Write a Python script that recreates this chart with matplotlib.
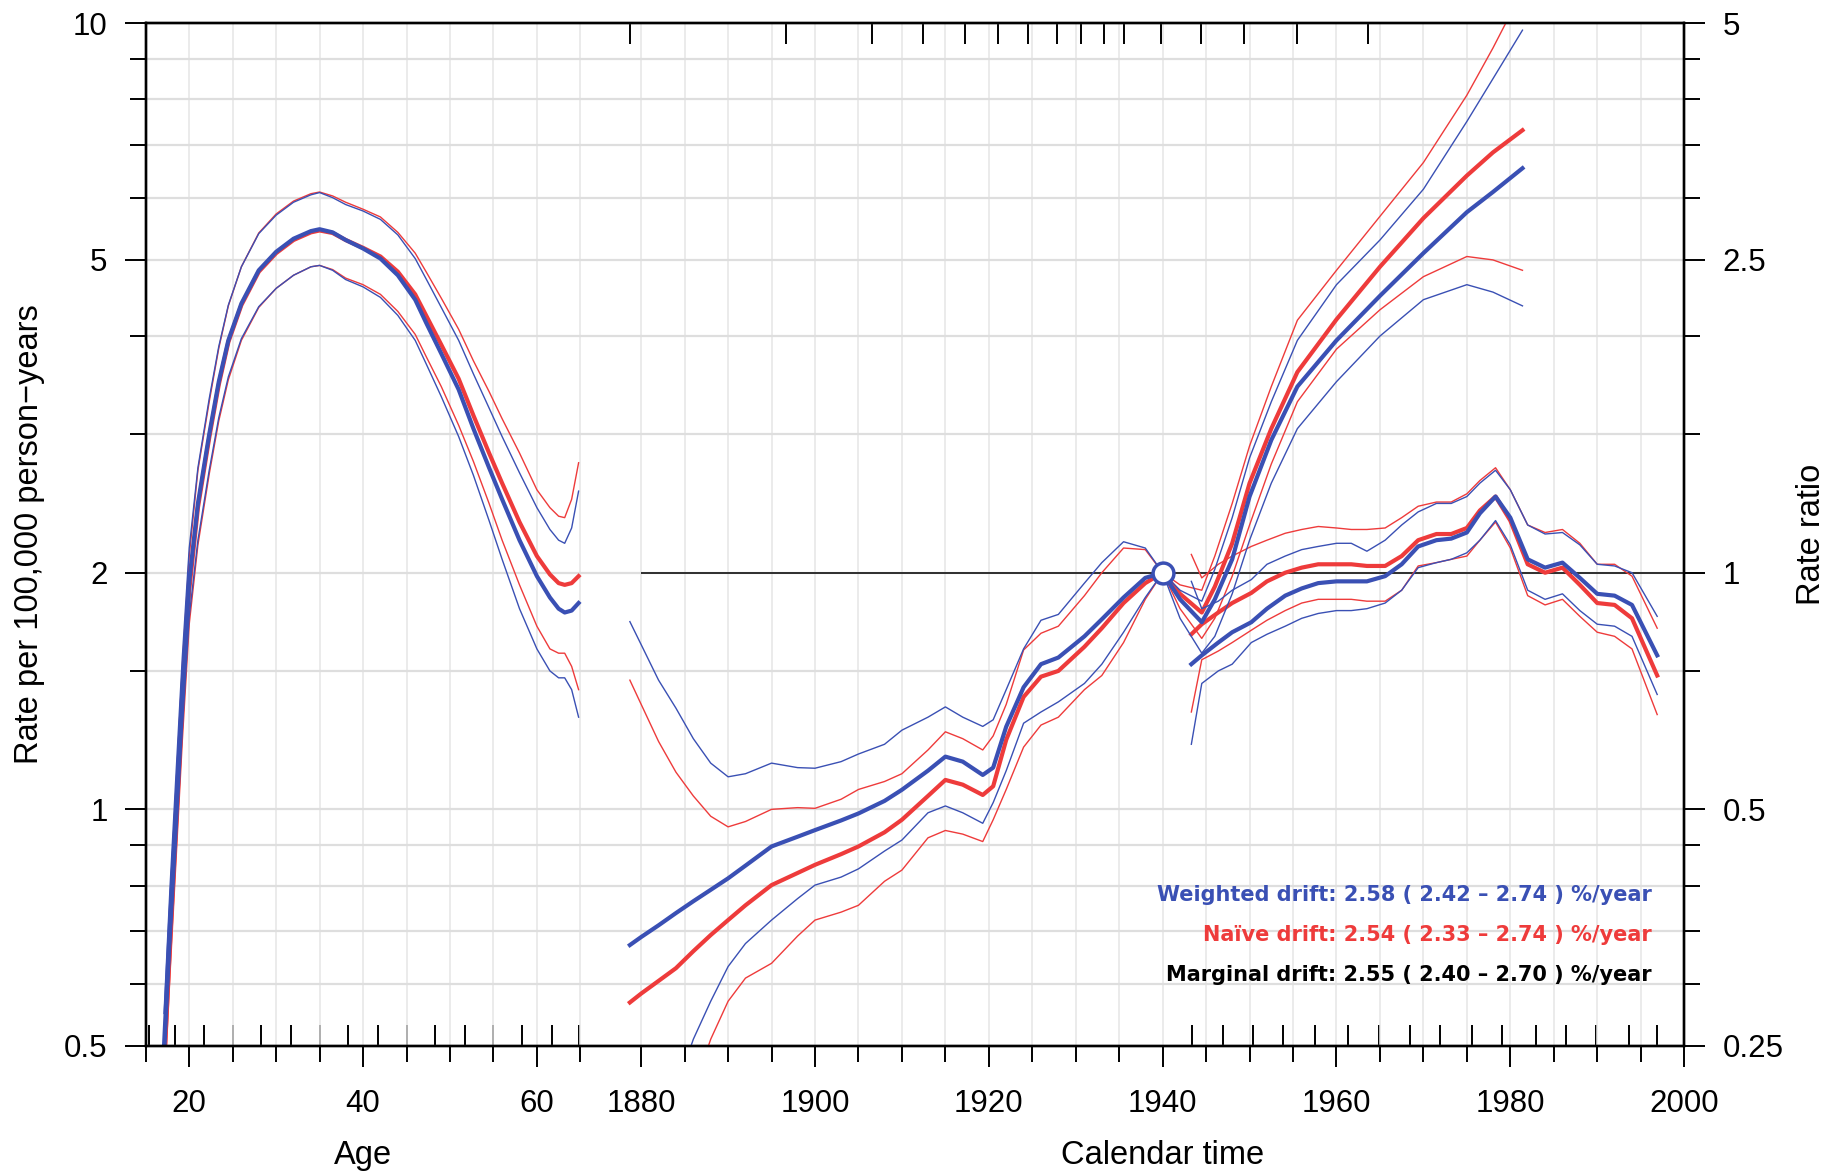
import matplotlib
matplotlib.use("Agg")
import matplotlib.pyplot as plt
from matplotlib.ticker import NullFormatter
from matplotlib.transforms import blended_transform_factory

plt.rcParams['font.family'] = ['Liberation Sans', 'DejaVu Sans']

blue = '#3a50b4'
red = '#ee3b3b'

# ---- age effect: rate per 100,000 person-years (w = weighted fit, n = naive fit)
age = [17.1, 17.8, 18.5, 19.2, 20.0, 21.0, 22.3, 23.4, 24.5, 26.0, 28.0, 30.0, 32.0, 34.0,
       35.0, 36.5, 38.0, 40.0, 42.0, 44.0, 46.0, 47.3, 49.0, 51.0, 52.7, 54.5, 56.0, 58.0,
       60.0, 61.5, 62.5, 63.2, 64.0, 64.8]
age_w = [0.5, 0.72, 1.0, 1.4, 1.95, 2.45, 3.0, 3.5, 3.95, 4.4, 4.85, 5.12, 5.32, 5.44,
         5.47, 5.42, 5.30, 5.17, 5.02, 4.78, 4.45, 4.15, 3.8, 3.42, 3.05, 2.72, 2.48, 2.2,
         1.98, 1.86, 1.80, 1.78, 1.79, 1.83]
age_w_hi = [0.55, 0.80, 1.12, 1.56, 2.15, 2.72, 3.33, 3.88, 4.38, 4.9, 5.4, 5.7, 5.92, 6.05,
            6.09, 6.0, 5.88, 5.77, 5.63, 5.38, 5.02, 4.72, 4.35, 3.95, 3.58, 3.24, 2.98, 2.68,
            2.42, 2.27, 2.20, 2.18, 2.28, 2.54]
age_w_lo = [0.45, 0.65, 0.9, 1.26, 1.76, 2.2, 2.7, 3.15, 3.55, 3.97, 4.36, 4.6, 4.78, 4.9,
            4.92, 4.85, 4.72, 4.62, 4.48, 4.25, 3.95, 3.68, 3.35, 2.98, 2.66, 2.33, 2.08, 1.80,
            1.60, 1.50, 1.47, 1.47, 1.42, 1.31]
age_n = [0.47, 0.68, 0.96, 1.36, 1.9, 2.42, 2.97, 3.47, 3.93, 4.38, 4.83, 5.1, 5.3, 5.42,
         5.45, 5.41, 5.3, 5.18, 5.05, 4.83, 4.52, 4.24, 3.9, 3.53, 3.17, 2.84, 2.6, 2.32,
         2.1, 1.99, 1.94, 1.93, 1.94, 1.98]
age_n_hi = [0.52, 0.77, 1.08, 1.52, 2.1, 2.7, 3.3, 3.86, 4.37, 4.9, 5.41, 5.72, 5.94, 6.07,
            6.1, 6.03, 5.92, 5.8, 5.67, 5.42, 5.1, 4.82, 4.47, 4.08, 3.72, 3.4, 3.14, 2.84,
            2.55, 2.42, 2.36, 2.35, 2.48, 2.76]
age_n_lo = [0.43, 0.62, 0.87, 1.22, 1.72, 2.17, 2.67, 3.12, 3.52, 3.95, 4.35, 4.6, 4.78, 4.9,
            4.92, 4.86, 4.74, 4.65, 4.52, 4.3, 4.02, 3.76, 3.45, 3.08, 2.77, 2.45, 2.2, 1.93,
            1.71, 1.6, 1.58, 1.58, 1.52, 1.42]

# ---- cohort effect: rate ratio, reference cohort 1940
coh = [1878.7, 1880, 1882, 1884, 1886, 1888, 1890, 1892, 1895, 1898, 1900, 1903, 1905, 1908,
       1910, 1913, 1915, 1917, 1919.3, 1920.5, 1922, 1924, 1926, 1928, 1931, 1933, 1935.5,
       1938, 1940, 1942, 1944.5, 1946, 1948, 1950, 1952.5, 1955.5, 1960, 1965, 1970, 1975,
       1978, 1981.4]
coh_w = [0.336, 0.344, 0.356, 0.369, 0.382, 0.395, 0.4085, 0.424, 0.4485, 0.4615, 0.4705,
         0.484, 0.494, 0.5125, 0.5295, 0.56, 0.5835, 0.575, 0.553, 0.565, 0.637, 0.715, 0.765,
         0.78, 0.83, 0.8725, 0.93, 0.985, 1.0, 0.925, 0.865, 0.925, 1.04, 1.25, 1.475, 1.725,
         1.975, 2.25, 2.55, 2.875, 3.05, 3.27]
coh_w_hi = [0.8665, 0.81, 0.73, 0.6725, 0.615, 0.5725, 0.55, 0.555, 0.5725, 0.565, 0.564,
            0.575, 0.588, 0.605, 0.6305, 0.655, 0.675, 0.655, 0.6375, 0.65, 0.71, 0.8, 0.87,
            0.885, 0.97, 1.03, 1.095, 1.075, 1.0, 0.95, 0.92, 1.01, 1.175, 1.4, 1.65, 1.975,
            2.325, 2.65, 3.075, 3.75, 4.25, 4.9]
coh_w_lo = [0.13, 0.15, 0.185, 0.22, 0.255, 0.285, 0.3155, 0.3375, 0.3615, 0.385, 0.4005,
            0.41, 0.42, 0.4425, 0.457, 0.495, 0.505, 0.495, 0.48, 0.51, 0.56, 0.6435, 0.665,
            0.685, 0.723, 0.765, 0.84, 0.93, 1.0, 0.875, 0.79, 0.83, 0.94, 1.1, 1.3, 1.525,
            1.75, 2.0, 2.225, 2.325, 2.275, 2.185]
coh_n = [0.284, 0.2915, 0.3025, 0.314, 0.33, 0.346, 0.3615, 0.3775, 0.4005, 0.415, 0.425,
         0.4385, 0.4485, 0.4675, 0.485, 0.52, 0.545, 0.5375, 0.5215, 0.535, 0.613, 0.695,
         0.7375, 0.75, 0.805, 0.85, 0.915, 0.97, 1.0, 0.94, 0.89, 0.96, 1.09, 1.3, 1.525, 1.8,
         2.1, 2.45, 2.825, 3.2, 3.425, 3.655]
coh_n_hi = [0.73, 0.68, 0.61, 0.5575, 0.52, 0.49, 0.475, 0.4825, 0.5, 0.5025, 0.5015, 0.515,
            0.53, 0.5425, 0.555, 0.595, 0.6275, 0.615, 0.595, 0.62, 0.68, 0.7975, 0.8375, 0.855,
            0.935, 1.0, 1.075, 1.07, 1.0, 0.965, 0.95, 1.05, 1.225, 1.45, 1.725, 2.095, 2.425,
            2.84, 3.325, 4.05, 4.65, 5.5]
coh_n_lo = [0.1, 0.115, 0.15, 0.185, 0.22, 0.255, 0.285, 0.305, 0.3185, 0.345, 0.3615, 0.37,
            0.3775, 0.405, 0.4185, 0.46, 0.47, 0.465, 0.455, 0.485, 0.53, 0.6, 0.64, 0.655,
            0.71, 0.74, 0.815, 0.925, 1.0, 0.9, 0.825, 0.875, 0.99, 1.15, 1.375, 1.65, 1.925,
            2.16, 2.38, 2.525, 2.5, 2.425]

# ---- period effect: rate ratio
per = [1943.3, 1944.5, 1946.4, 1948, 1950.2, 1952, 1954.1, 1956, 1957.9, 1960, 1961.7, 1963.5,
       1965.6, 1967.5, 1969.4, 1971.5, 1973.2, 1975, 1976.5, 1978.3, 1980, 1982, 1984, 1986,
       1988, 1990, 1992, 1994, 1996.9]
per_w = [0.765, 0.785, 0.815, 0.84, 0.865, 0.9, 0.935, 0.955, 0.97, 0.975, 0.975, 0.975, 0.99,
         1.025, 1.08, 1.1, 1.105, 1.125, 1.19, 1.25, 1.175, 1.04, 1.015, 1.03, 0.985, 0.94,
         0.935, 0.91, 0.785]
per_w_hi = [0.975, 0.9, 0.92, 0.95, 0.98, 1.025, 1.05, 1.07, 1.08, 1.09, 1.09, 1.065, 1.1,
            1.15, 1.195, 1.225, 1.225, 1.25, 1.3, 1.35, 1.275, 1.15, 1.12, 1.125, 1.085, 1.025,
            1.02, 1.0, 0.88]
per_w_lo = [0.605, 0.723, 0.75, 0.765, 0.815, 0.835, 0.855, 0.875, 0.8875, 0.895, 0.895, 0.9,
            0.915, 0.95, 1.015, 1.03, 1.04, 1.06, 1.1, 1.165, 1.085, 0.95, 0.925, 0.94, 0.895,
            0.86, 0.855, 0.83, 0.7]
per_n = [0.835, 0.86, 0.89, 0.915, 0.9425, 0.975, 1.0, 1.015, 1.025, 1.025, 1.025, 1.02, 1.02,
         1.05, 1.1, 1.12, 1.12, 1.14, 1.2, 1.25, 1.165, 1.025, 1.0, 1.015, 0.965, 0.915, 0.91,
         0.875, 0.74]
per_n_hi = [1.055, 0.985, 1.025, 1.05, 1.08, 1.1, 1.1225, 1.135, 1.145, 1.14, 1.135, 1.135,
            1.14, 1.175, 1.215, 1.23, 1.23, 1.26, 1.31, 1.36, 1.275, 1.15, 1.125, 1.135, 1.09,
            1.025, 1.025, 0.99, 0.85]
per_n_lo = [0.665, 0.775, 0.795, 0.815, 0.845, 0.87, 0.895, 0.915, 0.925, 0.925, 0.925, 0.92,
            0.92, 0.95, 1.02, 1.03, 1.04, 1.05, 1.1, 1.16, 1.075, 0.935, 0.91, 0.925, 0.88, 0.84,
            0.83, 0.8, 0.66]

# spline knots shown as inner ticks
age_knots = [15.4, 18.4, 21.7, 25.0, 28.3, 31.7, 35.0, 38.3, 41.7, 45.0, 48.3, 51.7, 55.0,
             58.3, 61.7, 64.8]
per_knots = [1943.4, 1946.9, 1950.4, 1953.9, 1957.5, 1961.3, 1964.9, 1968.5, 1971.9, 1975.6,
             1979.1, 1982.9, 1986.4, 1989.9, 1993.6, 1996.9]
coh_knots = [1878.7, 1896.7, 1906.5, 1912.4, 1917.3, 1921.1, 1924.5, 1927.9, 1930.6, 1933.3,
             1935.6, 1939.8, 1944.4, 1949.4, 1955.5, 1963.6]

ref_cohort = 1940
drift_txt = [("Weighted drift: 2.58 ( 2.42 \u2013 2.74 ) %/year", blue),
             ("Na\u00efve drift: 2.54 ( 2.33 \u2013 2.74 ) %/year", red),
             ("Marginal drift: 2.55 ( 2.40 \u2013 2.70 ) %/year", 'black')]

a_lab = [15, 65]          # age axis range
cp_lab = [1880, 2000]     # calendar time range
gap = 7
shift = cp_lab[0] - a_lab[1] - gap   # age a drawn at a + shift

fig = plt.figure(figsize=(18.29, 11.75), dpi=100)
ax = fig.add_axes([0.0797, 0.1098, 0.8411, 0.8704])
ax.set_yscale('log')
ax.set_xlim(a_lab[0] + shift, cp_lab[1])
ax.set_ylim(0.5, 10)
ax2 = ax.twinx()
ax2.set_yscale('log')
ax2.set_ylim(0.25, 5)

# x ticks: age part and calendar part
maj_x = [a + shift for a in (20, 40, 60)] + list(range(1880, 2001, 20))
maj_lab = ['20', '40', '60'] + [str(y) for y in range(1880, 2001, 20)]
all_x = [a + shift for a in range(a_lab[0], a_lab[1] + 1, 5)] + list(range(cp_lab[0], cp_lab[1] + 1, 5))
min_x = [x for x in all_x if x not in maj_x]
ax.set_xticks(maj_x)
ax.set_xticklabels(maj_lab)
ax.set_xticks(min_x, minor=True)

ax.set_yticks([0.5, 1, 2, 5, 10])
ax.set_yticklabels(['0.5', '1', '2', '5', '10'])
ax.set_yticks([0.6, 0.7, 0.8, 0.9, 1.5, 3, 4, 6, 7, 8, 9], minor=True)
ax.yaxis.set_minor_formatter(NullFormatter())
ax2.set_yticks([0.25, 0.5, 1, 2.5, 5])
ax2.set_yticklabels(['0.25', '0.5', '1', '2.5', '5'])
ax2.set_yticks([0.3, 0.35, 0.4, 0.45, 0.75, 1.5, 2, 3, 3.5, 4, 4.5], minor=True)
ax2.yaxis.set_minor_formatter(NullFormatter())

for a in (ax, ax2):
    a.tick_params(which='major', direction='out', length=15, width=1.4, labelsize=22.5, pad=12.5)
    a.tick_params(which='minor', direction='out', length=11.5, width=1.4)
    for s in a.spines.values():
        s.set_linewidth(1.7)
ax.tick_params(axis='x', which='major', pad=16)

ax.xaxis.grid(True, which='both', color='#e5e5e5', lw=1.1)
ax.yaxis.grid(True, which='both', color='#dedede', lw=1.6)
ax.set_axisbelow(True)

# knot ticks inside the frame
rug_b = ax.secondary_xaxis('bottom')
rug_b.set_xticks([k + shift for k in age_knots] + per_knots)
rug_b.tick_params(direction='in', length=15, width=1.4, labelbottom=False)
rug_b.spines['bottom'].set_visible(False)
rug_t = ax.secondary_xaxis('top')
rug_t.set_xticks(coh_knots)
rug_t.tick_params(direction='in', length=15, width=1.4, labeltop=False)
rug_t.spines['top'].set_visible(False)

# reference line RR = 1
ax2.hlines(1, cp_lab[0], cp_lab[1], color='black', lw=1.1, zorder=1)

thick = 3.0
thin = 1.0
age_x = [a + shift for a in age]
# naive fit first, weighted on top
ax.plot(age_x, age_n, color=red, lw=thick)
ax.plot(age_x, age_n_hi, color=red, lw=thin)
ax.plot(age_x, age_n_lo, color=red, lw=thin)
ax2.plot(coh, coh_n, color=red, lw=thick)
ax2.plot(coh, coh_n_hi, color=red, lw=thin)
ax2.plot(coh, coh_n_lo, color=red, lw=thin)
ax2.plot(per, per_n, color=red, lw=thick)
ax2.plot(per, per_n_hi, color=red, lw=thin)
ax2.plot(per, per_n_lo, color=red, lw=thin)

ax.plot(age_x, age_w, color=blue, lw=thick)
ax.plot(age_x, age_w_hi, color=blue, lw=thin)
ax.plot(age_x, age_w_lo, color=blue, lw=thin)
ax2.plot(coh, coh_w, color=blue, lw=thick)
ax2.plot(coh, coh_w_hi, color=blue, lw=thin)
ax2.plot(coh, coh_w_lo, color=blue, lw=thin)
ax2.plot(per, per_w, color=blue, lw=thick)
ax2.plot(per, per_w_hi, color=blue, lw=thin)
ax2.plot(per, per_w_lo, color=blue, lw=thin)

ax2.plot([ref_cohort], [1], 'o', ms=15, mfc='white', mec=blue, mew=2.5, zorder=5)

for i, (txt, col) in enumerate(drift_txt):
    ax.text(0.979, 0.148 - i * 0.0395, txt, color=col, transform=ax.transAxes,
            ha='right', va='center', fontsize=15, fontweight='bold', family='DejaVu Sans')

tr = blended_transform_factory(ax.transData, fig.transFigure)
ax.text(40 + shift, 0.017, 'Age', transform=tr, ha='center', va='center', fontsize=23.5)
ax.text(1940, 0.017, 'Calendar time', transform=tr, ha='center', va='center', fontsize=23.5)
fig.text(0.0159, 0.545, 'Rate per 100,000 person\u2212years', rotation=90,
         ha='center', va='center', fontsize=23.5)
fig.text(0.9905, 0.545, 'Rate ratio', rotation=90, ha='center', va='center', fontsize=23.5)

fig.savefig('out.png', dpi=100)
